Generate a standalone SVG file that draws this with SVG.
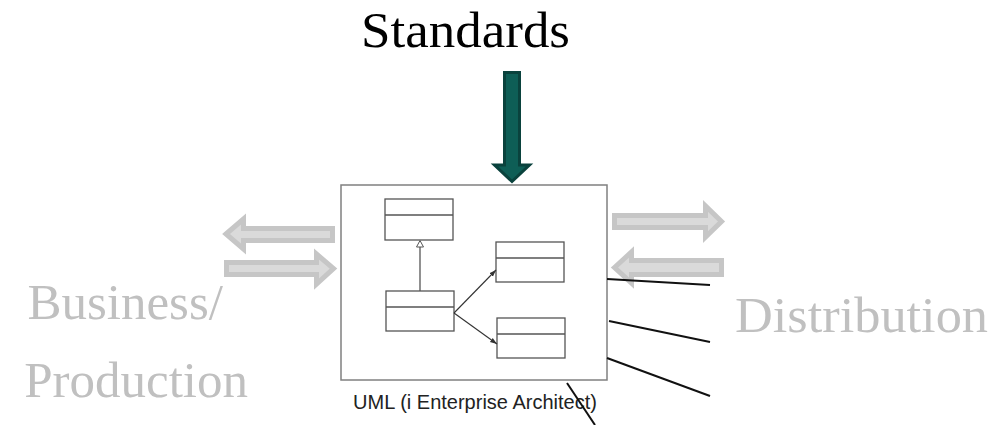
<svg xmlns="http://www.w3.org/2000/svg" width="999" height="425" viewBox="0 0 999 425">
<style>
.big{font-family:"Liberation Serif","Times New Roman",serif;font-size:51px}
.gray{fill:#c0c0c0}
.garrow{fill:#dadada;stroke:#c6c6c6;stroke-width:5;stroke-linejoin:miter}
.cls{fill:#fff;stroke:#555;stroke-width:1.3}
.div{stroke:#555;stroke-width:1.3}
.line{stroke:#111;stroke-width:2;fill:none}
.assoc{stroke:#333;stroke-width:1.1;fill:none}
</style>
<defs>
<marker id="ah" viewBox="0 0 10 10" refX="10" refY="5" markerWidth="7" markerHeight="7" orient="auto" markerUnits="userSpaceOnUse">
<path d="M0,1.5 L10,5 L0,8.5 Z" fill="#333"/>
</marker>
</defs>
<g id="standards">
<text class="big" x="465.5" y="47" text-anchor="middle" fill="#000" textLength="209" lengthAdjust="spacingAndGlyphs">Standards</text>
<path d="M504.5,72.5 L519.5,72.5 L519.5,165 L529.5,165 L512,181.5 L494.5,165 L504.5,165 Z" fill="#0e5e56" stroke="#0a423d" stroke-width="3"/>
</g>
<g id="uml">
<rect x="341" y="185" width="266" height="195" fill="#fff" stroke="#808080" stroke-width="1.5"/>
<rect class="cls" x="385" y="199" width="68" height="41"/>
<line class="div" x1="385" y1="215" x2="453" y2="215"/>
<rect class="cls" x="496" y="242" width="68" height="40"/>
<line class="div" x1="496" y1="258" x2="564" y2="258"/>
<rect class="cls" x="386" y="291" width="68" height="40"/>
<line class="div" x1="386" y1="307" x2="454" y2="307"/>
<rect class="cls" x="497" y="318" width="68" height="40"/>
<line class="div" x1="497" y1="334" x2="565" y2="334"/>
<line x1="420" y1="291" x2="420" y2="247" stroke="#555" stroke-width="1.3"/>
<path d="M420,240.5 L416.5,247 L423.5,247 Z" fill="#fff" stroke="#555" stroke-width="1"/>
<line class="assoc" x1="454" y1="313" x2="496" y2="270" marker-end="url(#ah)"/>
<line class="assoc" x1="454" y1="313" x2="497" y2="344" marker-end="url(#ah)"/>
<text x="475" y="409" text-anchor="middle" font-family="Liberation Sans, Arial, sans-serif" font-size="20" fill="#222">UML (i Enterprise Architect)</text>
</g>
<g id="business">
<text class="big gray" x="223" y="319" text-anchor="end">Business/</text>
<text class="big gray" x="248" y="397" text-anchor="end">Production</text>
</g>
<g id="distribution">
<text class="big gray" x="735" y="332" textLength="253" lengthAdjust="spacingAndGlyphs">Distribution</text>
</g>
<g id="connectors">
<path class="garrow" d="M226,234 L243.5,219 L243.5,228.5 L332.5,228.5 L332.5,240.5 L243.5,240.5 L243.5,249 Z"/>
<path class="garrow" d="M226.5,262.5 L316.5,262.5 L316.5,254 L333.5,268.5 L316.5,284 L316.5,274.5 L226.5,274.5 Z"/>
<path class="garrow" d="M614.5,215.5 L705.5,215.5 L705.5,206 L721.5,221.5 L705.5,237 L705.5,227.5 L614.5,227.5 Z"/>
<path class="garrow" d="M614.5,267.5 L631.5,252 L631.5,260.5 L721.5,260.5 L721.5,274.5 L631.5,274.5 L631.5,283 Z"/>
<line class="line" x1="607" y1="279" x2="710" y2="285"/>
<line class="line" x1="609" y1="321" x2="710" y2="342"/>
<line class="line" x1="607" y1="358" x2="710" y2="396"/>
<line class="line" x1="567" y1="383" x2="595" y2="425"/>
</g>
</svg>
